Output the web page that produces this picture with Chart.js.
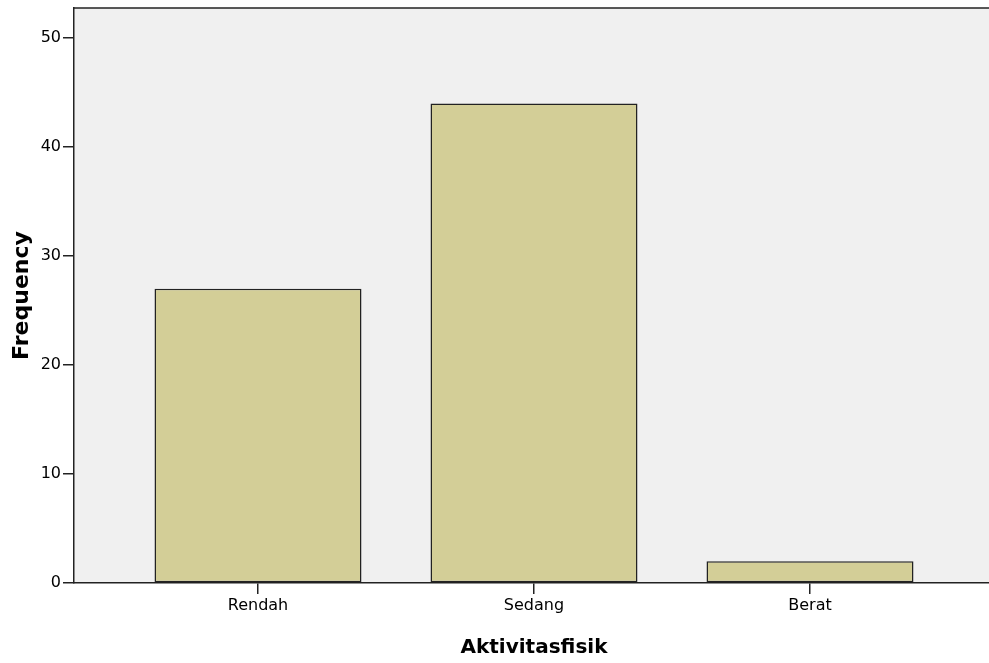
<!DOCTYPE html>
<html>
<head>
<meta charset="utf-8">
<script src="https://cdn.jsdelivr.net/npm/chart.js@4/dist/chart.umd.min.js"></script>
<style>
  html, body { margin: 0; padding: 0; background: #fff; overflow: hidden; }
  #wrap { width: 994px; height: 663px; }
</style>
</head>
<body>
<div id="wrap"><canvas id="chart"></canvas></div>
<script>
const categories = ['Rendah', 'Sedang', 'Berat'];
const frequency = [27, 44, 2];
const yTicks = [0, 10, 20, 30, 40, 50];

const FONT = 'DejaVu Sans';

// grey plot background + top frame line, like the SPSS output
const plotFrame = {
  id: 'plotFrame',
  beforeDraw(chart) {
    const { ctx, chartArea: a } = chart;
    ctx.save();
    ctx.fillStyle = '#f0f0f0';
    ctx.fillRect(a.left, a.top, a.right - a.left, a.bottom - a.top);
    ctx.restore();
  },
  afterDraw(chart) {
    const { ctx, chartArea: a } = chart;
    ctx.save();
    ctx.strokeStyle = '#222';
    ctx.lineWidth = 1.5;
    ctx.beginPath();
    ctx.moveTo(a.left, a.top);
    ctx.lineTo(a.right, a.top);
    ctx.stroke();
    ctx.restore();
  }
};

new Chart(document.getElementById('chart'), {
  type: 'bar',
  data: {
    datasets: [{
      data: frequency.map((v, i) => ({ x: i, y: v })),
      backgroundColor: '#d3ce97',
      borderColor: '#222',
      borderWidth: 1.5,
      borderSkipped: false,
      barPercentage: 0.75,
      categoryPercentage: 1
    }]
  },
  options: {
    responsive: true,
    maintainAspectRatio: false,
    animation: false,
    layout: { padding: { top: 8, left: 0, right: 0, bottom: 0 } },
    plugins: {
      legend: { display: false },
      tooltip: { enabled: false }
    },
    scales: {
      x: {
        type: 'linear',
        offset: false,
        min: -2 / 3,
        max: categories.length - 1 + 2 / 3,
        afterBuildTicks(scale) {
          scale.ticks = categories.map((_, i) => ({ value: i }));
        },
        afterFit(scale) {
          scale.height = 80;
          scale.paddingLeft = 0;
          scale.paddingRight = 0;
        },
        ticks: {
          callback: (v) => categories[v],
          color: '#000',
          font: { family: FONT, size: 16 },
          padding: 2,
          maxRotation: 0,
          autoSkip: false
        },
        grid: { offset: false, drawOnChartArea: false, drawTicks: true, tickLength: 11, color: '#222', lineWidth: 1.5 },
        border: { display: true, color: '#222', width: 1.5 },
        title: {
          display: true,
          text: 'Aktivitasfisik',
          color: '#000',
          font: { family: FONT, size: 20, weight: 'bold' },
          padding: { top: 0, bottom: 3 }
        }
      },
      y: {
        min: 0,
        max: 52.75,
        afterBuildTicks(scale) {
          scale.ticks = yTicks.map(v => ({ value: v }));
        },
        afterFit(scale) {
          scale.width = 74;
          scale.paddingTop = 0;
          scale.paddingBottom = 0;
        },
        ticks: {
          color: '#000',
          font: { family: FONT, size: 16 },
          padding: 2
        },
        grid: { drawOnChartArea: false, drawTicks: true, tickLength: 11, color: '#222', lineWidth: 1.5 },
        border: { display: true, color: '#222', width: 1.5 },
        title: {
          display: true,
          text: 'Frequency',
          color: '#000',
          font: { family: FONT, size: 22, weight: 'bold' },
          padding: { top: 9, bottom: 0 }
        }
      }
    }
  },
  plugins: [plotFrame]
});
</script>
</body>
</html>
